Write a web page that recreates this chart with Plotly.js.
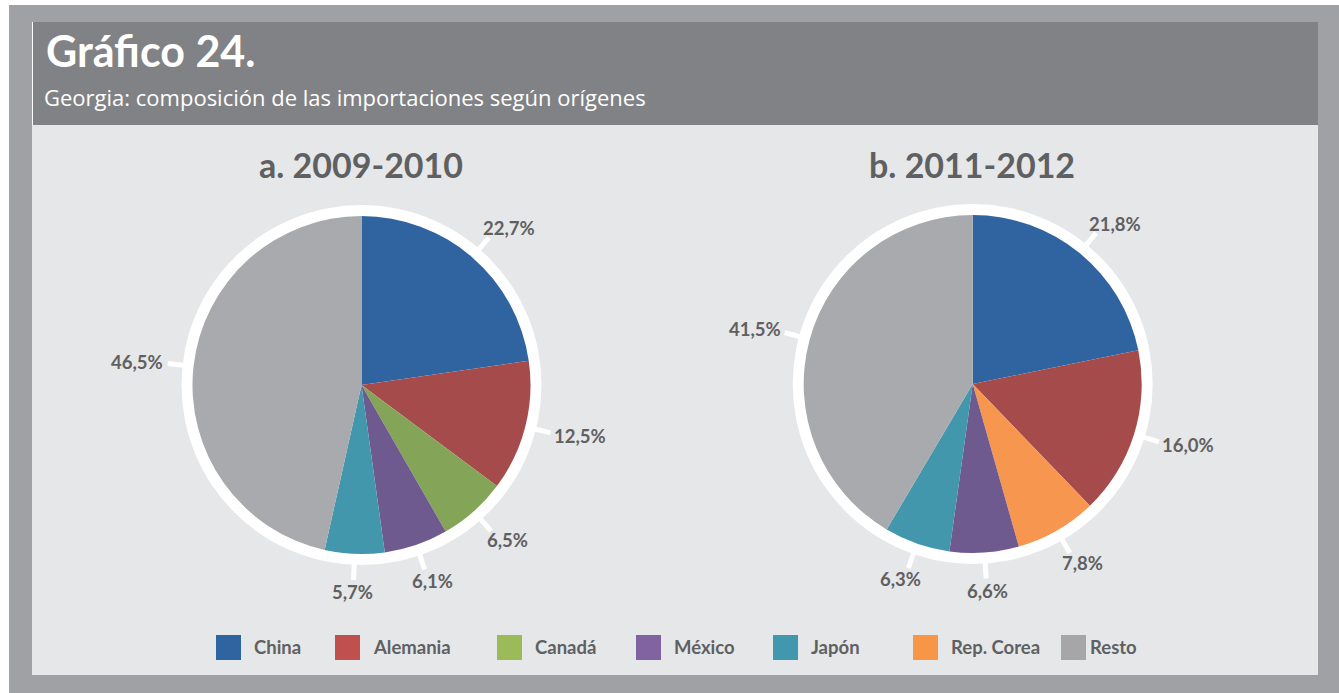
<!DOCTYPE html>
<html>
<head>
<meta charset="utf-8">
<script src="https://cdn.plot.ly/plotly-3.0.1.min.js"></script>
<style>
html,body{margin:0;padding:0;background:#ffffff;}
#chart{width:1339px;height:693px;}
</style>
</head>
<body>
<div id="chart"></div>
<script>
// ---- data ----
const chartTitle = 'Gráfico 24.';
const chartSubtitle = 'Georgia: composición de las importaciones según orígenes';
const pieTitles = ['a. 2009-2010', 'b. 2011-2012'];
const categories1 = ['China', 'Alemania', 'Canadá', 'México', 'Japón', 'Resto'];
const values1 = [22.7, 12.5, 6.5, 6.1, 5.7, 46.5];
const categories2 = ['China', 'Alemania', 'Rep. Corea', 'México', 'Japón', 'Resto'];
const values2 = [21.8, 16.0, 7.8, 6.6, 6.3, 41.5];
const legendLabels = ['China', 'Alemania', 'Canadá', 'México', 'Japón', 'Rep. Corea', 'Resto'];

// ---- styles ----
const sliceColors = {
  'China': '#2f64a0', 'Alemania': '#a64b4b', 'Canadá': '#84a458', 'México': '#6e5a8f',
  'Japón': '#4297ad', 'Rep. Corea': '#f6964f', 'Resto': '#a9aaad'
};
const legendColors = {
  'China': '#2e64a0', 'Alemania': '#c0504d', 'Canadá': '#9bbb59', 'México': '#8064a2',
  'Japón': '#4197ae', 'Rep. Corea': '#f79646', 'Resto': '#a6a6a9'
};
const legendX = [216, 335, 497, 636, 773, 913, 1061];
const W = 1339, H = 693;
const FONT = 'Lato, "Open Sans", sans-serif';
const TXT = '#5f6062';
const px = x => x / W;
const py = y => 1 - y / H;

const pies = [
  {cats: categories1, vals: values1, cx: 361.5, cy: 385, r: 169},
  {cats: categories2, vals: values2, cx: 972.7, cy: 384, r: 169}
];

const data = [];
const shapes = [
  {type: 'rect', xref: 'paper', yref: 'paper', x0: px(9), x1: px(1339), y0: py(693), y1: py(5), fillcolor: '#a0a1a4', line: {width: 0}, layer: 'below'},
  {type: 'rect', xref: 'paper', yref: 'paper', x0: px(32), x1: px(1318), y0: py(675), y1: py(22), fillcolor: '#e6e7e8', line: {width: 0}, layer: 'below'},
  {type: 'rect', xref: 'paper', yref: 'paper', x0: px(32), x1: px(1318), y0: py(125), y1: py(22), fillcolor: '#818285', line: {width: 0}, layer: 'below'},
  {type: 'line', xref: 'paper', yref: 'paper', x0: px(32.5), x1: px(32.5), y0: py(125), y1: py(22), line: {color: '#ffffff', width: 1}, layer: 'below'}
];
const annotations = [
  {xref: 'paper', yref: 'paper', x: px(44), y: py(50), xanchor: 'left', yanchor: 'middle', showarrow: false,
   text: chartTitle, font: {family: FONT, size: 43, color: '#ffffff', weight: 700}},
  {xref: 'paper', yref: 'paper', x: px(42), y: py(97), xanchor: 'left', yanchor: 'middle', showarrow: false,
   text: chartSubtitle, font: {family: '"Open Sans", sans-serif', size: 22, color: '#ffffff'}}
];

pies.forEach((p, k) => {
  data.push({
    type: 'pie', labels: p.cats, values: p.vals, sort: false, direction: 'clockwise', rotation: 0,
    marker: {colors: p.cats.map(c => sliceColors[c]), line: {width: 0}},
    textinfo: 'none', hoverinfo: 'label+percent', showlegend: false,
    domain: {x: [px(p.cx - p.r), px(p.cx + p.r)], y: [py(p.cy + p.r), py(p.cy - p.r)]}
  });
  // white ring
  const ro = 180;
  shapes.push({type: 'circle', xref: 'paper', yref: 'paper', layer: 'below',
    x0: px(p.cx - ro), x1: px(p.cx + ro), y0: py(p.cy + ro), y1: py(p.cy - ro),
    fillcolor: '#ffffff', line: {width: 0}});
  // pie title
  annotations.push({xref: 'paper', yref: 'paper', x: px(p.cx - 1), y: py(164), xanchor: 'center', yanchor: 'middle',
    showarrow: false, text: pieTitles[k], font: {family: FONT, size: 34, color: TXT, weight: 700}});
  // ticks and labels at slice midpoints
  const total = p.vals.reduce((a, b) => a + b, 0);
  let cum = 0;
  p.vals.forEach(v => {
    const midFrac = (cum + v / 2) / total;
    cum += v;
    const ang = (90 - midFrac * 360) * Math.PI / 180;
    const ux = Math.cos(ang), uy = -Math.sin(ang);
    shapes.push({type: 'line', xref: 'paper', yref: 'paper',
      x0: px(p.cx + ux * 179), y0: py(p.cy + uy * 179),
      x1: px(p.cx + ux * 195), y1: py(p.cy + uy * 195),
      line: {color: '#ffffff', width: 5}});
    const label = v.toFixed(1).replace('.', ',') + '%';
    const halfW = label.length * 5.3, halfH = 8;
    const lx = p.cx + ux * 199 + ux * halfW;
    const ly = p.cy + uy * 199 + uy * halfH;
    annotations.push({xref: 'paper', yref: 'paper', x: px(lx), y: py(ly), xanchor: 'center', yanchor: 'middle',
      showarrow: false, text: label, font: {family: FONT, size: 18.5, color: TXT, weight: 700}});
  });
});

// legend
legendLabels.forEach((lab, i) => {
  const x = legendX[i];
  shapes.push({type: 'rect', xref: 'paper', yref: 'paper', x0: px(x), x1: px(x + 25), y0: py(660), y1: py(635),
    fillcolor: legendColors[lab], line: {width: 0}});
  annotations.push({xref: 'paper', yref: 'paper', x: px(x + (lab === 'Resto' ? 27 : 36)), y: py(647), xanchor: 'left', yanchor: 'middle',
    showarrow: false, text: lab, font: {family: FONT, size: 18.5, color: TXT, weight: 700}});
});

const layout = {
  width: W, height: H, margin: {l: 0, r: 0, t: 0, b: 0},
  paper_bgcolor: '#ffffff', plot_bgcolor: 'rgba(0,0,0,0)',
  showlegend: false, shapes: shapes, annotations: annotations
};
Plotly.newPlot('chart', data, layout, {displayModeBar: false, staticPlot: false});
</script>
</body>
</html>
